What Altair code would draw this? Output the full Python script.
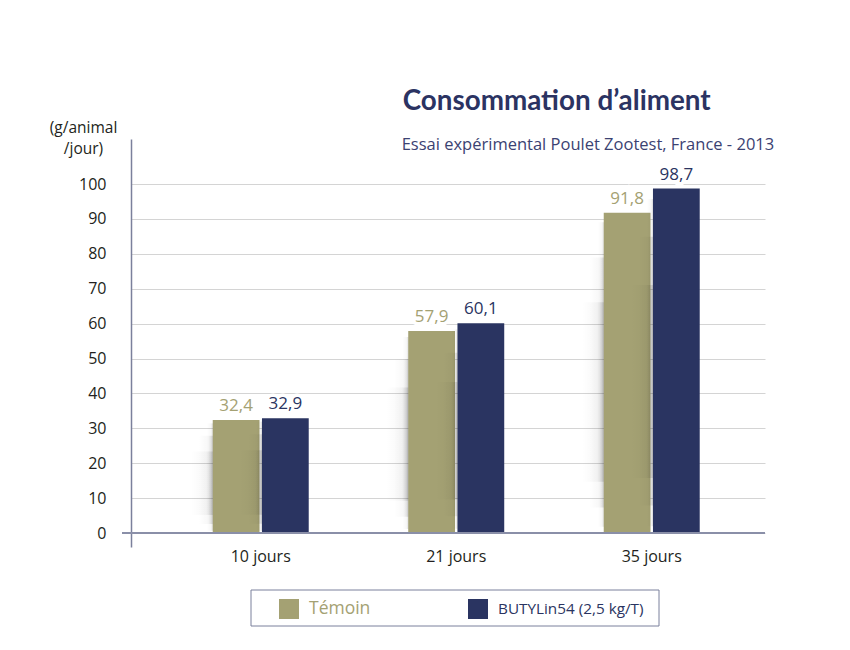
import altair as alt
import pandas as pd

categories = ["10 jours", "21 jours", "35 jours"]
series = ["Témoin", "BUTYLin54 (2,5 kg/T)"]
temoin = [32.4, 57.9, 91.8]
butylin = [32.9, 60.1, 98.7]
y_ticks = [0, 10, 20, 30, 40, 50, 60, 70, 80, 90, 100]
title_text = "Consommation d’aliment"
subtitle_text = "Essai expérimental Poulet Zootest, France - 2013"
y_title = ["(g/animal", "/jour)"]
colors = ["#a4a173", "#2a3461"]

rows = []
for i, c in enumerate(categories):
    for s, vals in zip(series, [temoin, butylin]):
        v = vals[i]
        rows.append({"cat": c, "serie": s, "val": v,
                     "label": f"{v:.1f}".replace(".", ",")})
df = pd.DataFrame(rows)

W, H = 634, 408
FONT = "Open Sans"
TFONT = "Lato"
TXT = "#231f20"

xscale = alt.Scale(domain=categories, paddingInner=0.509, paddingOuter=0.376, align=0.556)
xoff_scale = alt.Scale(domain=series, paddingInner=0.05)
yscale = alt.Scale(domain=[-4.0, 112.9], nice=False, zero=False)
cscale = alt.Scale(domain=series, range=colors)

xaxis = alt.Axis(domain=False, ticks=False, tickSize=0, labelPadding=1, labelAngle=0,
                 labelFont=FONT, labelFontSize=16, labelColor=TXT, grid=False, title=None)
yaxis = alt.Axis(values=y_ticks, grid=True, gridColor="#d4d4d4", gridWidth=1,
                 domain=True, domainColor="#7b809c", domainWidth=1.5,
                 ticks=False, tickSize=0, labelPadding=25, labelFont=FONT,
                 labelFontSize=16, labelColor=TXT,
                 title=y_title, titleAngle=0, titleX=-48, titleY=-7,
                 titleAlign="center", titleBaseline="alphabetic", titleFont=FONT,
                 titleFontSize=15.5, titleFontWeight="normal", titleColor=TXT,
                 titleLineHeight=21.5)

X = alt.X("cat:N", scale=xscale, axis=xaxis, title=None, sort=categories)
XO = alt.XOffset("serie:N", scale=xoff_scale, sort=series)

base = alt.Chart(df)

bars = base.mark_bar().encode(
    x=X, xOffset=XO,
    y=alt.Y("val:Q", scale=yscale, axis=yaxis),
    y2=alt.datum(0),
    color=alt.Color("serie:N", scale=cscale, sort=series,
                    legend=alt.Legend(orient="none", legendX=148, legendY=460,
                                      direction="horizontal", title=None,
                                      symbolType="square", symbolSize=400,
                                      symbolStrokeWidth=0, symbolOpacity=1,
                                      labelFont=FONT,
                                      labelFontSize=alt.ExprRef(expr="datum.label == 'Témoin' ? 17.5 : 15.3"),
                                      labelOffset=10, columnPadding=97, padding=0,
                                      labelLimit=400,
                                      labelColor=alt.ExprRef(expr="datum.label == 'Témoin' ? '#a4a173' : '#2a3461'"))),
)

shadow_fill = alt.LinearGradient(
    gradient="linear", x1=0, x2=1, y1=0, y2=0,
    stops=[alt.GradientStop(offset=0, color="rgba(0,0,0,0)"),
           alt.GradientStop(offset=0.7, color="rgba(0,0,0,0.03)"),
           alt.GradientStop(offset=1, color="rgba(0,0,0,0.12)")])

# soft shadow just left of each bar, built from a few nested strips
bar_left = {series[0]: -48.0, series[1]: 1.2}   # bar left edge vs band centre (px)
strips = [(22, 0.16, 0.72), (14, 0.08, 0.86), (6, 0.02, 0.97)]
shadows = []
for s, left in bar_left.items():
    for w, f1, f2 in strips:
        shadows.append(
            base.transform_filter(alt.datum.serie == s)
            .transform_calculate(lo=f"datum.val * {f1}", hi=f"datum.val * {f2}")
            .mark_bar(width=w, xOffset=left - w / 2, fill=shadow_fill)
            .encode(x=X, y=alt.Y("lo:Q", scale=yscale, axis=yaxis), y2="hi:Q")
        )

zero_line = alt.Chart(pd.DataFrame({"z": [0]})).mark_rule(color="#8a8fa8", strokeWidth=2).encode(
    y=alt.datum(0), x=alt.value(-9), x2=alt.value(W)
)

halo = base.mark_text(dy=-9, baseline="alphabetic", font=FONT, fontSize=17,
                      fill="white", stroke="white", strokeWidth=7).encode(
    x=X, xOffset=XO, y=alt.Y("val:Q", scale=yscale, axis=yaxis), text="label:N")

labels = base.mark_text(dy=-9, baseline="alphabetic", font=FONT, fontSize=17).encode(
    x=X, xOffset=XO, y=alt.Y("val:Q", scale=yscale, axis=yaxis), text="label:N",
    color=alt.Color("serie:N", scale=cscale, legend=None))

box = alt.Chart(pd.DataFrame({"b": [0]})).mark_rect(
    fill="white", fillOpacity=0, stroke="#7b809c", strokeWidth=1).encode(
    x=alt.value(120), x2=alt.value(528), y=alt.value(451), y2=alt.value(487))

title = alt.Chart(pd.DataFrame({"t": [title_text]})).mark_text(
    align="left", baseline="alphabetic", font=TFONT, fontSize=27.8, fontWeight="bold",
    color="#2b3362").encode(text="t:N", x=alt.value(271.7), y=alt.value(-29))

subtitle = alt.Chart(pd.DataFrame({"t": [subtitle_text]})).mark_text(
    align="left", baseline="alphabetic", font=FONT, fontSize=16.5,
    color="#3b4272").encode(text="t:N", x=alt.value(270.7), y=alt.value(11))

chart = alt.layer(bars, *shadows, zero_line, halo, labels, box, title, subtitle).properties(
    width=W, height=H,
    autosize=alt.AutoSizeParams(type="none"),
    padding={"left": 123, "top": 131, "right": 70, "bottom": 80},
    background="white",
).configure_view(stroke="transparent")

chart.save("out.html", embed_options={"renderer": "svg", "actions": False})
